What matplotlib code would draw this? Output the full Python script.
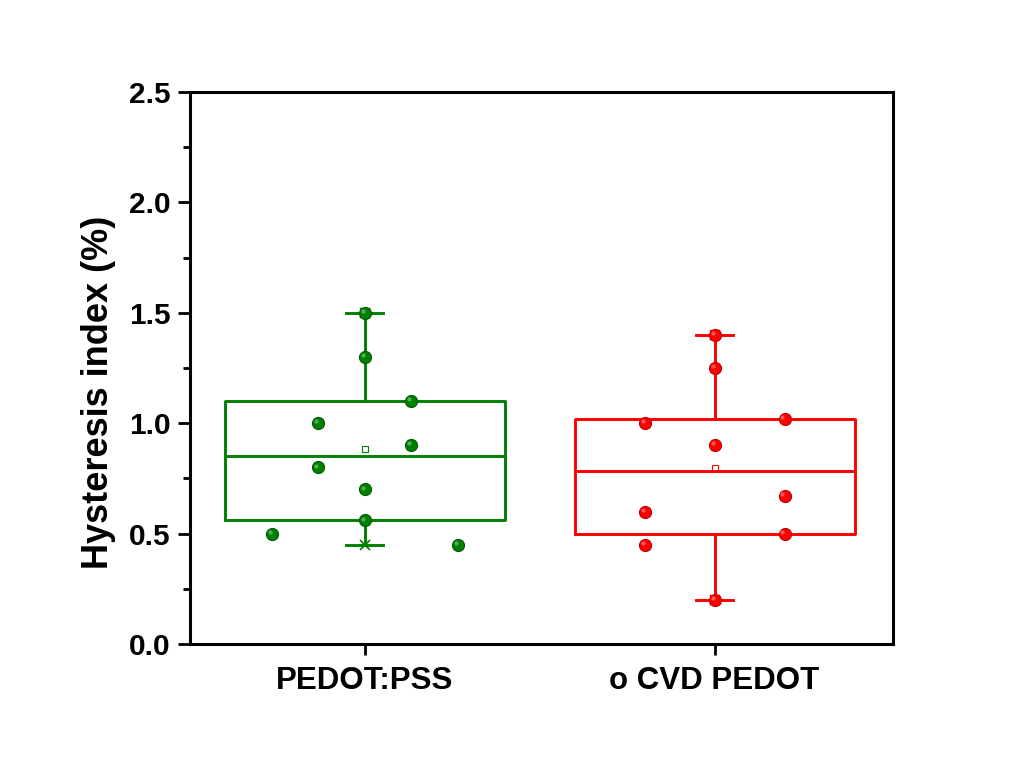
import numpy as np
import matplotlib
matplotlib.use("Agg")
import matplotlib.pyplot as plt
from matplotlib.ticker import MultipleLocator, FormatStrFormatter

# Hysteresis index (%) per device, for each hole-transport layer
categories = ["PEDOT:PSS", "o CVD PEDOT"]
pss_values = [0.50, 1.00, 0.80, 1.50, 1.30, 0.70, 0.56, 1.10, 0.90, 0.45]
cvd_values = [1.00, 0.60, 0.45, 1.40, 1.25, 0.90, 0.20, 1.02, 0.67, 0.50]

# horizontal scatter of the raw points around each box centre
pss_jitter = [-0.266, -0.133, -0.133, 0.0, 0.0, 0.0, 0.0, 0.133, 0.133, 0.266]
cvd_jitter = [-0.2, -0.2, -0.2, 0.0, 0.0, 0.0, 0.0, 0.2, 0.2, 0.2]

colors = ["#008000", "#ff0000"]
edge_colors = ["#005a00", "#c00000"]

plt.rcParams['font.family'] = ['Liberation Sans', 'DejaVu Sans']
plt.rcParams['font.weight'] = 'bold'


def box_stats(values):
    """Tukey hinges, median, mean and min/max whiskers."""
    s = np.sort(np.asarray(values, dtype=float))
    n = len(s)
    lower = s[: (n + 1) // 2]
    upper = s[n // 2:]
    return {
        "med": np.median(s),
        "q1": np.median(lower),
        "q3": np.median(upper),
        "whislo": s[0],
        "whishi": s[-1],
        "mean": s.mean(),
        "fliers": [],
    }


fig = plt.figure(figsize=(10.18, 7.66), dpi=100)
ax = fig.add_axes([0.1866, 0.1593, 0.6906, 0.7206])

positions = [1, 2]
all_values = [pss_values, cvd_values]
all_jitter = [pss_jitter, cvd_jitter]

for pos, vals, jit, c, ec in zip(positions, all_values, all_jitter, colors, edge_colors):
    st = box_stats(vals)
    ax.bxp([st], positions=[pos], widths=0.8, capwidths=0.105,
           showmeans=True, showfliers=False, patch_artist=False,
           boxprops=dict(color=c, linewidth=2.1),
           medianprops=dict(color=c, linewidth=2.1),
           whiskerprops=dict(color=c, linewidth=2.1),
           capprops=dict(color=c, linewidth=2.1),
           meanprops=dict(marker='s', markersize=4.5, markerfacecolor='none',
                          markeredgecolor=c, markeredgewidth=0.8))
    # min / max markers
    ax.plot([pos, pos], [st["whislo"], st["whishi"]], linestyle='none',
            marker='x', markersize=6.5, markeredgewidth=1.2, color=c, zorder=3)
    # raw data points, shaded like small spheres
    xs = pos + np.asarray(jit)
    ax.plot(xs, vals, linestyle='none', marker='o', markersize=8.7,
            markerfacecolor=c, markeredgecolor=ec, markeredgewidth=0.8, zorder=4)
    ax.plot(xs - 0.006, np.asarray(vals) + 0.008, linestyle='none', marker='o',
            markersize=3, markerfacecolor='white', markeredgecolor='none',
            alpha=0.35, zorder=5)

ax.set_xlim(0.5, 2.51)
ax.set_ylim(0, 2.5)
ax.set_xticks(positions)
ax.set_xticklabels(categories)
ax.yaxis.set_major_locator(MultipleLocator(0.5))
ax.yaxis.set_minor_locator(MultipleLocator(0.25))
ax.yaxis.set_major_formatter(FormatStrFormatter('%.1f'))

ax.tick_params(axis='y', which='major', direction='out', length=9, width=2,
               labelsize=21.5, pad=5)
ax.tick_params(axis='y', which='minor', direction='out', length=5, width=2)
ax.tick_params(axis='x', which='major', direction='out', length=8, width=2,
               labelsize=22.5, pad=8)
ax.tick_params(top=False, right=False)

for sp in ax.spines.values():
    sp.set_linewidth(2.2)

ax.set_ylabel("Hysteresis index (%)", fontsize=26, fontweight='bold')
ax.yaxis.set_label_coords(-0.105, 0.455)

fig.savefig("out.png", dpi=100, facecolor='white')
